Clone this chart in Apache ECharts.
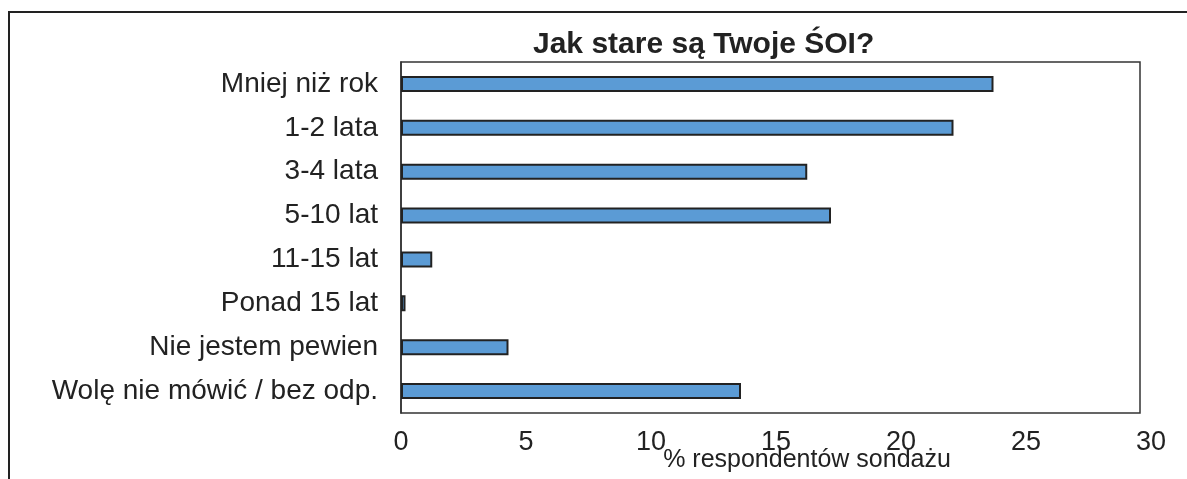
<!DOCTYPE html>
<html>
<head>
<meta charset="utf-8">
<title>Jak stare są Twoje ŚOI?</title>
<script src="https://cdn.jsdelivr.net/npm/echarts@6/dist/echarts.min.js"></script>
<style>
	html, body { margin: 0; padding: 0; background: #fff; }
	#chart { width: 1187px; height: 479px; }
</style>
</head>
<body>
<div id="chart"></div>
<script>
// data
var categories = ['Mniej niż rok', '1-2 lata', '3-4 lata', '5-10 lat', '11-15 lat', 'Ponad 15 lat', 'Nie jestem pewien', 'Wolę nie mówić / bez odp.'];
var values = [23.7, 22.1, 16.25, 17.2, 1.25, 0.18, 4.3, 13.6];
var xTicks = [0, 5, 10, 15, 20, 25, 30];

var fontName = '"Liberation Sans", Arial, Helvetica, sans-serif';
var textCol = '#222';

var chart = echarts.init(document.getElementById('chart'), null, { renderer: 'canvas' });

var option = {
	animation: false,
	backgroundColor: '#fff',
	title: {
		text: 'Jak stare są Twoje ŚOI?',
		left: 533,
		top: 30,
		padding: 0,
		textStyle: { fontFamily: fontName, fontSize: 30, fontWeight: 'bold', color: textCol },
	},
	grid: [
		// bars + axis labels (0..30)
		{ left: 401, right: 36, top: 62, height: 351, show: false },
		// the plot box, stops a bit short of 30 like the original
		{ left: 401, width: 739, top: 62, height: 351, show: true, borderColor: '#333', borderWidth: 1.5, backgroundColor: 'transparent' },
	],
	xAxis: [
		{
			gridIndex: 0,
			type: 'value',
			min: xTicks[0],
			max: xTicks[xTicks.length - 1],
			interval: 5,
			axisLine: { show: false },
			axisTick: { show: false },
			splitLine: { show: false },
			axisLabel: { margin: 16, fontFamily: fontName, fontSize: 27, color: textCol },
		},
		{ gridIndex: 1, type: 'value', show: false, min: 0, max: 1 },
	],
	yAxis: [
		{
			gridIndex: 0,
			type: 'category',
			data: categories,
			inverse: true,
			axisLine: { show: true, lineStyle: { color: '#333', width: 1.5 } },
			axisTick: { show: false },
			axisLabel: { margin: 23, fontFamily: fontName, fontSize: 28, color: textCol },
		},
		{ gridIndex: 1, type: 'value', show: false, min: 0, max: 1 },
	],
	series: [
		{
			type: 'bar',
			xAxisIndex: 0,
			yAxisIndex: 0,
			data: values,
			barWidth: 16,
			itemStyle: { color: '#5b9bd5', borderColor: '#222', borderWidth: 2 },
			z: 3,
		},
	],
	graphic: [
		{
			type: 'polyline',
			shape: { points: [[9, 479], [9, 12], [1187, 12]] },
			style: { stroke: '#222', lineWidth: 2, fill: null },
		},
		{
			type: 'text',
			x: 807,
			y: 460,
			style: {
				text: '% respondentów sondażu',
				textAlign: 'center',
				textVerticalAlign: 'middle',
				font: '25px ' + fontName,
				fill: textCol,
			},
		},
	],
};

chart.setOption(option);
</script>
</body>
</html>
